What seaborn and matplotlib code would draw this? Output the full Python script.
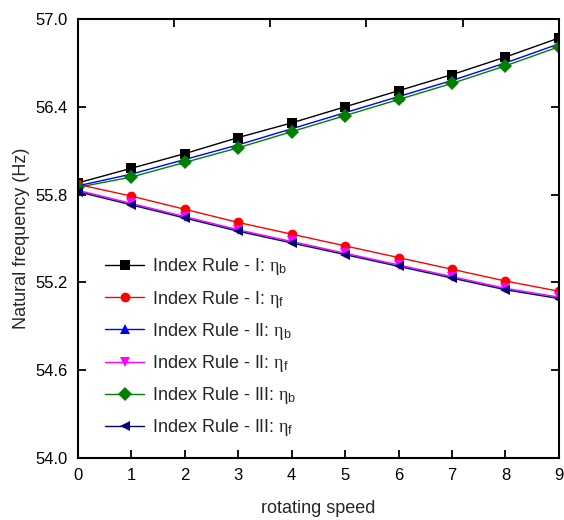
import numpy as np
import pandas as pd
import matplotlib
matplotlib.use("Agg")
import matplotlib.pyplot as plt
import seaborn as sns

speed = [0, 1, 2, 3, 4, 5, 6, 7, 8, 9]
rule1_b = [55.88, 55.98, 56.08, 56.19, 56.29, 56.40, 56.51, 56.62, 56.74, 56.87]
rule1_f = [55.87, 55.79, 55.70, 55.61, 55.53, 55.45, 55.37, 55.29, 55.21, 55.14]
rule2_b = [55.86, 55.94, 56.04, 56.14, 56.25, 56.36, 56.47, 56.58, 56.70, 56.83]
rule2_f = [55.83, 55.74, 55.65, 55.56, 55.48, 55.40, 55.32, 55.24, 55.16, 55.10]
rule3_b = [55.85, 55.92, 56.02, 56.12, 56.23, 56.34, 56.45, 56.56, 56.68, 56.81]
rule3_f = [55.82, 55.73, 55.64, 55.55, 55.47, 55.39, 55.31, 55.23, 55.15, 55.09]

labels = [r"Index Rule - I: $\eta_\mathrm{b}$", r"Index Rule - I: $\eta_\mathrm{f}$",
          r"Index Rule - II: $\eta_\mathrm{b}$", r"Index Rule - II: $\eta_\mathrm{f}$",
          r"Index Rule - III: $\eta_\mathrm{b}$", r"Index Rule - III: $\eta_\mathrm{f}$"]
series = [rule1_b, rule1_f, rule2_b, rule2_f, rule3_b, rule3_f]
colors = ["#000000", "#ff0000", "#0000ff", "#ff00ff", "#008000", "#000080"]
markers = ["s", "o", "^", "v", "D", "<"]
top_ticks = [1.8, 3.6, 5.4, 7.2]
y_ticks = [54.0, 54.6, 55.2, 55.8, 56.4, 57.0]
y_ticklabels = ["54.0", "54.6", "55.2", "55.8", "56.4", "57.0"]

rows = []
for lab, vals in zip(labels, series):
    for s, v in zip(speed, vals):
        rows.append({"speed": s, "freq": v, "series": lab})
df = pd.DataFrame(rows)

sns.set_theme(style="ticks")
plt.rcParams["font.family"] = ["Liberation Sans", "DejaVu Sans"]
plt.rcParams["mathtext.fontset"] = "custom"
plt.rcParams["mathtext.rm"] = "Liberation Sans"
plt.rcParams["mathtext.it"] = "Liberation Serif"
plt.rcParams["mathtext.bf"] = "Liberation Sans:bold"

fig = plt.figure(figsize=(5.64, 5.2), dpi=100)
ax = fig.add_axes([0.138, 0.119, 0.853, 0.8445])

sns.lineplot(data=df, x="speed", y="freq", hue="series", style="series",
             hue_order=labels, style_order=labels,
             palette=dict(zip(labels, colors)), markers=dict(zip(labels, markers)),
             dashes=False, linewidth=1.0, markersize=7, markeredgewidth=0,
             ax=ax, legend=True)

ax.set_xlim(0, 9)
ax.set_ylim(54.0, 57.0)
ax.set_xticks(range(0, 10))
ax.set_yticks(y_ticks)
ax.set_yticklabels(y_ticklabels)
ax.tick_params(which="major", direction="in", length=6, width=1.3, labelsize=12,
               colors="black", left=True, right=True, top=False, bottom=True, pad=7)
ax.set_ylabel("Natural frequency (Hz)", fontsize=13, labelpad=4)
ax.set_xlabel("rotating speed", fontsize=13, labelpad=12)
for sp in ax.spines.values():
    sp.set_linewidth(1.5)
    sp.set_color("black")

# top-axis tick marks (5 divisions, no labels)
ax.vlines(top_ticks, 0.982, 1.0, transform=ax.get_xaxis_transform(),
          colors="black", linewidth=1.3, clip_on=False, zorder=5)

handles, labs = ax.get_legend_handles_labels()
leg = ax.legend(handles, labs, loc="lower left", bbox_to_anchor=(0.056, 0.045),
                frameon=False, fontsize=13, handlelength=2.2, handletextpad=0.4,
                labelspacing=0.62, borderaxespad=0.0, borderpad=0.0)

fig.savefig("out.png", dpi=100)
